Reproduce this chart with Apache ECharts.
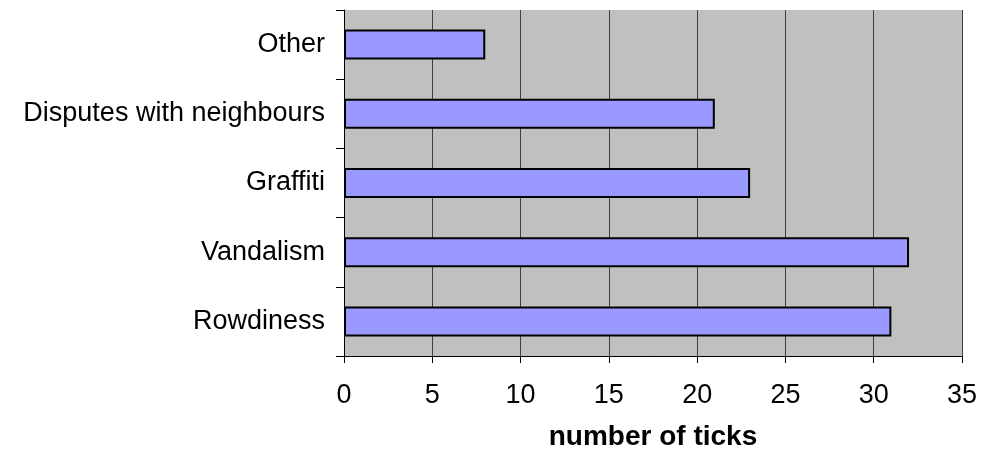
<!DOCTYPE html>
<html><head><meta charset="utf-8">
<script src="https://cdn.jsdelivr.net/npm/echarts@6/dist/echarts.min.js"></script>
<style>html,body{margin:0;padding:0;background:#fff}#c{width:981px;height:459px}</style>
</head><body><div id="c"></div>
<script>
const categories = ["Rowdiness", "Vandalism", "Graffiti", "Disputes with neighbours", "Other"];
const values = [31, 32, 23, 21, 8];
const xTicks = [0, 5, 10, 15, 20, 25, 30, 35];
const xTitle = "number of ticks";

const chart = echarts.init(document.getElementById('c'));
chart.setOption({
  animation: false,
  grid: {left: 344, top: 10, width: 618, height: 346, backgroundColor: '#C0C0C0', show: true, borderWidth: 0},
  xAxis: {
    type: 'value', min: xTicks[0], max: xTicks[xTicks.length - 1], interval: 5,
    axisLine: {show: true, lineStyle: {color: '#000', width: 1}},
    axisTick: {show: true, length: 7, lineStyle: {color: '#000'}},
    splitLine: {show: true, lineStyle: {color: '#404040', width: 1}},
    axisLabel: {color: '#000', fontFamily: 'Liberation Sans, Arial', fontSize: 27, margin: 26},
    name: xTitle, nameLocation: 'middle', nameGap: 67,
    nameTextStyle: {color: '#000', fontFamily: 'Liberation Sans, Arial', fontSize: 28, fontWeight: 'bold'}
  },
  yAxis: {
    type: 'category', data: categories,
    axisLine: {show: true, lineStyle: {color: '#000', width: 1}},
    axisTick: {show: true, length: 8, lineStyle: {color: '#000'}},
    axisLabel: {color: '#000', fontFamily: 'Liberation Sans, Arial', fontSize: 27, margin: 19}
  },
  series: [{
    type: 'bar', data: values, barWidth: 30,
    itemStyle: {color: '#9999FF', borderColor: '#000', borderWidth: 2}
  }]
});
</script></body></html>
